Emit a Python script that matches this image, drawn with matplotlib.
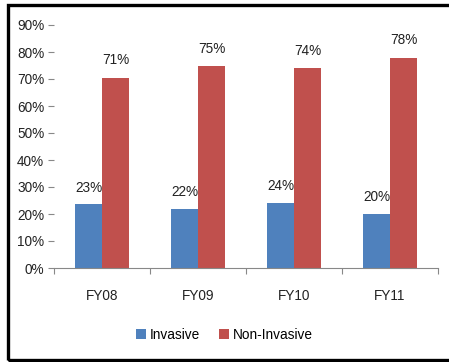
import matplotlib
matplotlib.use("Agg")
import matplotlib.pyplot as plt
from matplotlib.patches import Rectangle
import numpy as np

categories = ["FY08", "FY09", "FY10", "FY11"]
invasive = [23.6, 22.0, 24.0, 20.1]
non_invasive = [70.5, 74.8, 74.0, 77.9]
invasive_labels = ["23%", "22%", "24%", "20%"]
non_invasive_labels = ["71%", "75%", "74%", "78%"]
yticks = [0, 10, 20, 30, 40, 50, 60, 70, 80, 90]

plt.rcParams['font.family'] = ['Liberation Sans', 'DejaVu Sans']
FS = 9.8

W, H = 449, 362
fig = plt.figure(figsize=(W / 100, H / 100), dpi=100)
ax = fig.add_axes([54 / W, (H - 268) / H, (438 - 54) / W, (268 - 25) / H])

x = np.arange(len(categories))
bw = 0.28
blue = "#4F81BD"
red = "#C0504D"
b1 = ax.bar(x - bw / 2, invasive, bw, color=blue, label="Invasive")
b2 = ax.bar(x + bw / 2, non_invasive, bw, color=red, label="Non-Invasive")

for rect, lab in zip(b1, invasive_labels):
    ax.annotate(lab, (rect.get_x() + rect.get_width() / 2, rect.get_height()),
                xytext=(0, 7), textcoords="offset points", ha="center", va="bottom",
                fontsize=FS, color="#222222")
for rect, lab in zip(b2, non_invasive_labels):
    ax.annotate(lab, (rect.get_x() + rect.get_width() / 2, rect.get_height()),
                xytext=(0, 7.5), textcoords="offset points", ha="center", va="bottom",
                fontsize=FS, color="#222222")

ax.set_xlim(-0.5, len(categories) - 0.5)
ax.set_ylim(0, 90)
ax.set_yticks(yticks)
ax.set_yticklabels([f"{v}%" for v in yticks], fontsize=FS, color="#222222")
ax.tick_params(axis="y", length=4, width=0.8, color="#888888", pad=3)
ax.set_xticks(x)
ax.set_xticklabels(categories, fontsize=FS, color="#222222")
ax.tick_params(axis="x", which="major", length=0, pad=15)
ax.set_xticks(np.arange(-0.5, len(categories)), minor=True)
ax.tick_params(axis="x", which="minor", length=4, width=0.8, color="#888888")

for s in ["top", "right", "left"]:
    ax.spines[s].set_visible(False)
ax.spines["bottom"].set_color("#888888")
ax.spines["bottom"].set_linewidth(0.8)

fig.legend(handles=[b1, b2], loc="center", bbox_to_anchor=(0.5, 1 - 335 / H),
           ncol=2, frameon=False, fontsize=FS, handlelength=0.7, handleheight=0.7,
           handletextpad=0.3, columnspacing=1.4)

# outer frame
fig.patches.append(Rectangle((7.5 / W, (H - 360) / H), (W + 5 - 7.5) / W, (360 - 5) / H,
                             transform=fig.transFigure, fill=False, edgecolor="black",
                             linewidth=2.4, clip_on=False))

fig.savefig("out.png", dpi=100)
